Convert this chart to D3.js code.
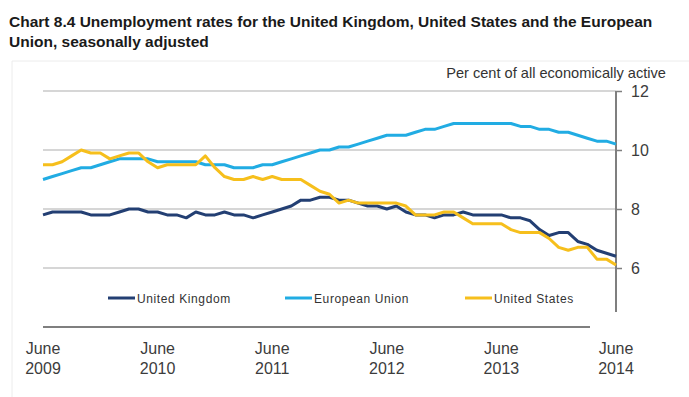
<!DOCTYPE html>
<html>
<head>
<meta charset="utf-8">
<script src="https://cdn.jsdelivr.net/npm/d3@7/dist/d3.min.js"></script>
<style>
  body { margin: 0; background: #fff; }
  svg { font-family: "Liberation Sans", Arial, sans-serif; }
  .title { font-weight: bold; font-size: 15.5px; fill: #1a1a1a; }
  .grid line { stroke: #c8c8c8; stroke-width: 1.5; }
  .axis-label { font-size: 16px; fill: #3c3c3c; }
  .legend text { font-size: 12px; fill: #333; letter-spacing: 0.6px; }
  .line { fill: none; stroke-width: 3; stroke-linejoin: round; }
</style>
</head>
<body>
<div id="chart"></div>
<script>
'use strict';

// Data: monthly, June 2009 to June 2014
var tickMonth = 'June';
var tickYears = ['2009', '2010', '2011', '2012', '2013', '2014'];
var yTicks = [6, 8, 10, 12];
var seriesNames = ['United Kingdom', 'European Union', 'United States'];
var seriesColors = ['#233f73', '#21ace3', '#f6bf1c'];

var ukRates = [
  7.8, 7.9, 7.9, 7.9, 7.9, 7.8, 7.8, 7.8, 7.9, 8.0, 8.0, 7.9, 7.9, 7.8, 7.8, 7.7,
  7.9, 7.8, 7.8, 7.9, 7.8, 7.8, 7.7, 7.8, 7.9, 8.0, 8.1, 8.3, 8.3, 8.4, 8.4,
  8.3, 8.3, 8.2, 8.1, 8.1, 8.0, 8.1, 7.9, 7.8, 7.8, 7.7, 7.8, 7.8, 7.9, 7.8,
  7.8, 7.8, 7.8, 7.7, 7.7, 7.6, 7.3, 7.1, 7.2, 7.2, 6.9, 6.8, 6.6, 6.5, 6.4
];
var euRates = [
  9.0, 9.1, 9.2, 9.3, 9.4, 9.4, 9.5, 9.6, 9.7, 9.7, 9.7, 9.7, 9.6, 9.6, 9.6, 9.6,
  9.6, 9.5, 9.5, 9.5, 9.4, 9.4, 9.4, 9.5, 9.5, 9.6, 9.7, 9.8, 9.9, 10.0, 10.0,
  10.1, 10.1, 10.2, 10.3, 10.4, 10.5, 10.5, 10.5, 10.6, 10.7, 10.7, 10.8, 10.9, 10.9, 10.9,
  10.9, 10.9, 10.9, 10.9, 10.8, 10.8, 10.7, 10.7, 10.6, 10.6, 10.5, 10.4, 10.3, 10.3, 10.2
];
var usRates = [
  9.5, 9.5, 9.6, 9.8, 10.0, 9.9, 9.9, 9.7, 9.8, 9.9, 9.9, 9.6, 9.4, 9.5, 9.5, 9.5,
  9.5, 9.8, 9.4, 9.1, 9.0, 9.0, 9.1, 9.0, 9.1, 9.0, 9.0, 9.0, 8.8, 8.6, 8.5,
  8.2, 8.3, 8.2, 8.2, 8.2, 8.2, 8.2, 8.1, 7.8, 7.8, 7.8, 7.9, 7.9, 7.7, 7.5,
  7.5, 7.5, 7.5, 7.3, 7.2, 7.2, 7.2, 7.0, 6.7, 6.6, 6.7, 6.7, 6.3, 6.3, 6.1
];

// Layout
var width = 689, height = 397;
var plot = {left: 43, right: 616, top: 91, bottom: 327};
var xAxisEnd = 590;
var yAxisBottom = 312;

var x = d3.scaleLinear().domain([0, ukRates.length - 1]).range([plot.left, plot.right]);
var y = d3.scaleLinear().domain([4, 12]).range([plot.bottom, plot.top]);

var svg = d3.select('#chart').append('svg')
  .attr('width', width)
  .attr('height', height);

// faint frame
svg.append('path')
  .attr('d', 'M12,' + height + 'V61H' + width)
  .attr('fill', 'none')
  .attr('stroke', '#ececec');

svg.append('text').attr('class', 'title').attr('x', 9).attr('y', 27)
  .text('Chart 8.4 Unemployment rates for the United Kingdom, United States and the European');
svg.append('text').attr('class', 'title').attr('x', 9).attr('y', 47)
  .text('Union, seasonally adjusted');

svg.append('text')
  .attr('x', 666).attr('y', 78)
  .attr('text-anchor', 'end')
  .style('font-size', '14.6px')
  .style('fill', '#333')
  .text('Per cent of all economically active');

// gridlines
svg.append('g').attr('class', 'grid')
  .selectAll('line')
  .data(yTicks)
  .enter().append('line')
  .attr('x1', plot.left).attr('x2', plot.right)
  .attr('y1', function(d) { return y(d); })
  .attr('y2', function(d) { return y(d); });

// right value axis
var yAxis = d3.axisRight(y).tickValues(yTicks).tickSize(6).tickPadding(9).tickSizeOuter(0);
var yAxisG = svg.append('g')
  .attr('transform', 'translate(' + plot.right + ',0)')
  .call(yAxis);
yAxisG.select('.domain')
  .attr('d', 'M0,' + y(12) + 'V' + yAxisBottom)
  .attr('stroke', '#7f7f7f').attr('stroke-width', 2);
yAxisG.selectAll('.tick line').attr('stroke', '#7f7f7f').attr('stroke-width', 1.5);
yAxisG.selectAll('.tick text')
  .attr('class', 'axis-label')
  .attr('font-family', null).attr('font-size', null).attr('fill', null);

// category axis line
svg.append('line')
  .attr('x1', plot.left).attr('x2', xAxisEnd)
  .attr('y1', y(4)).attr('y2', y(4))
  .attr('stroke', '#7f7f7f').attr('stroke-width', 2);

var xLabels = svg.append('g').selectAll('text')
  .data(tickYears)
  .enter().append('text')
  .attr('class', 'axis-label')
  .attr('text-anchor', 'middle')
  .attr('x', function(d, i) { return x(i * 12); })
  .attr('y', 354);
xLabels.append('tspan').text(tickMonth);
xLabels.append('tspan')
  .attr('x', function(d, i) { return x(i * 12); })
  .attr('dy', 20)
  .text(function(d) { return d; });

// lines
var line = d3.line()
  .x(function(d, i) { return x(i); })
  .y(function(d) { return y(d); });

var allSeries = [ukRates, euRates, usRates];
svg.append('g').selectAll('path')
  .data(allSeries)
  .enter().append('path')
  .attr('class', 'line')
  .attr('d', line)
  .style('stroke', function(d, i) { return seriesColors[i]; });

// legend
var legendX = [108, 285, 465];
var legend = svg.append('g').attr('class', 'legend')
  .selectAll('g')
  .data(seriesNames)
  .enter().append('g')
  .attr('transform', function(d, i) { return 'translate(' + legendX[i] + ',298)'; });
legend.append('line')
  .attr('x1', 0).attr('x2', 27)
  .attr('stroke-width', 3)
  .attr('stroke', function(d, i) { return seriesColors[i]; });
legend.append('text')
  .attr('x', 29).attr('y', 4.5)
  .text(function(d) { return d; });
</script>
</body>
</html>
